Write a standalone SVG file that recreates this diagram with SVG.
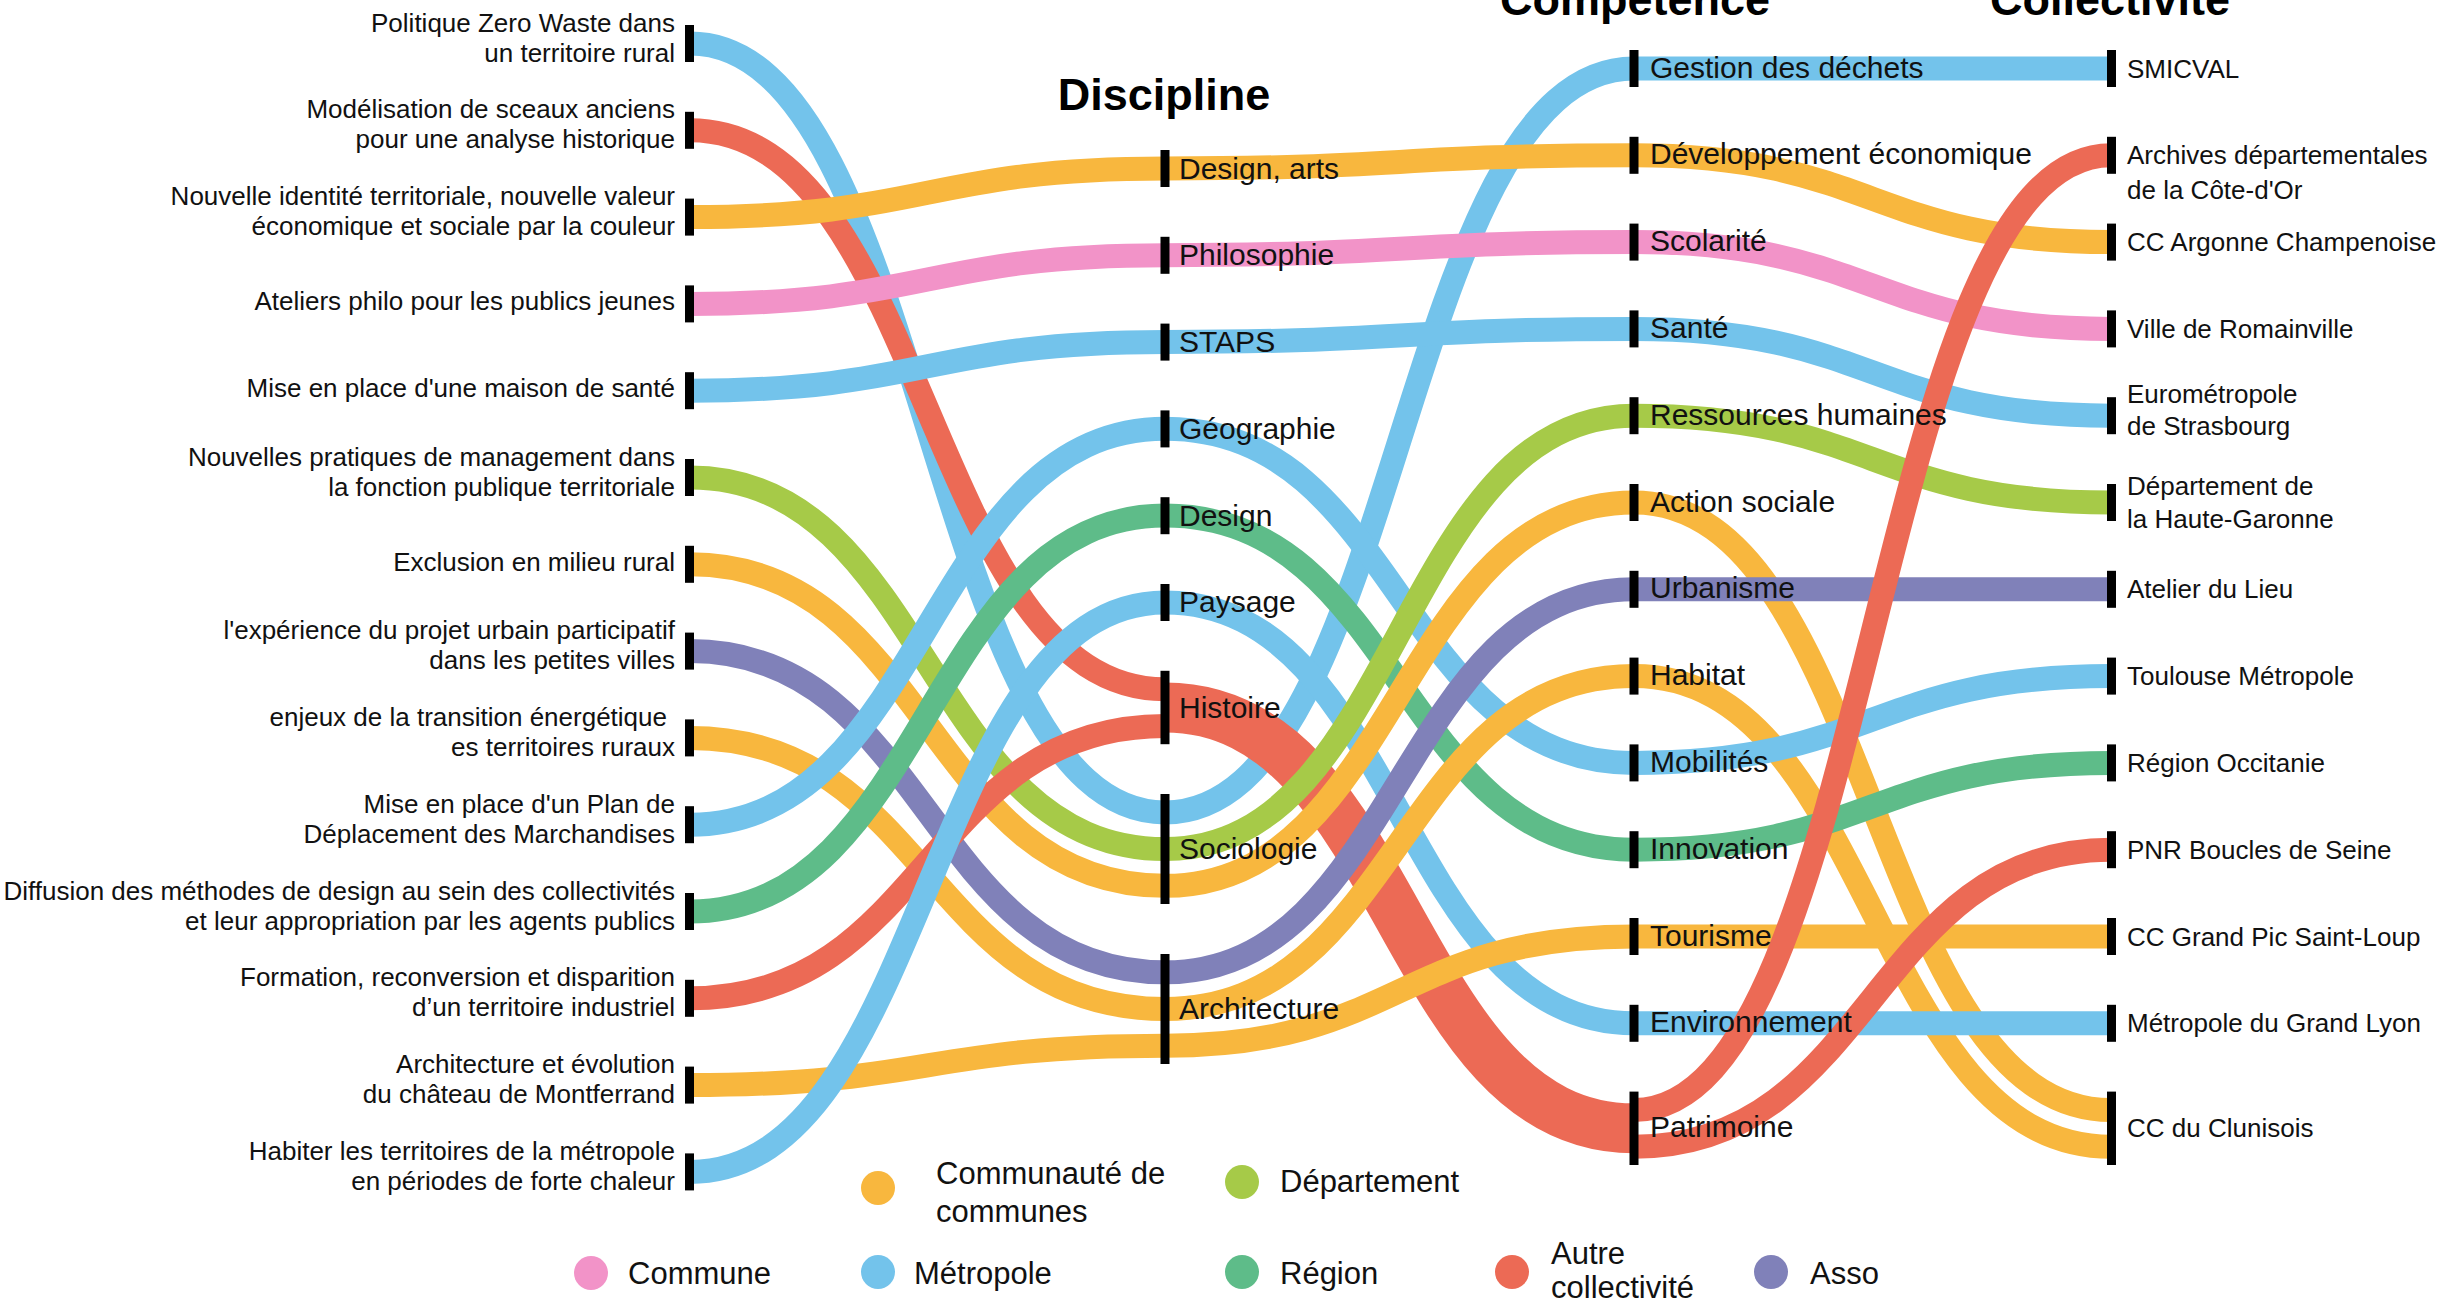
<svg xmlns="http://www.w3.org/2000/svg" width="2445" height="1305" viewBox="0 0 2445 1305">
<style>
.lk{fill:none;stroke-width:24}
.b{stroke:#73C3EB}.o{stroke:#F8B73E}.p{stroke:#F293C8}.l{stroke:#A6CA48}.g{stroke:#5EBC89}.r{stroke:#EC6A55}.v{stroke:#8081B9}
.fb{fill:#73C3EB}.fo{fill:#F8B73E}.fp{fill:#F293C8}.fl{fill:#A6CA48}.fg{fill:#5EBC89}.fr{fill:#EC6A55}.fv{fill:#8081B9}
.bar{fill:#000}
.t{font-family:"Liberation Sans",Arial,sans-serif;fill:#111}
.lt{font-size:26px;text-anchor:end}
.dt{font-size:30px}
.ct{font-size:30px}
.kt{font-size:26px}
.gt{font-size:31px}
.h{font-family:"Liberation Sans",Arial,sans-serif;font-weight:bold;font-size:45px;text-anchor:middle;fill:#000}
</style>
<rect width="2445" height="1305" fill="#fff"/>
<g id="titles">
<text class="h" x="1164" y="110">Discipline</text>
<text class="h" x="1635" y="15">Compétence</text>
<text class="h" x="2110" y="15">Collectivité</text>
</g>
<g id="connectors">
<path class="lk b" d="M690 43.5C927.5 43.5 927.5 812.4 1165 812.4"/>
<path class="lk r" d="M690 130.3C927.5 130.3 927.5 689.2 1165 689.2"/>
<path class="lk o" d="M690 217.1C927.5 217.1 927.5 168.5 1165 168.5"/>
<path class="lk p" d="M690 303.9C927.5 303.9 927.5 255.2 1165 255.2"/>
<path class="lk b" d="M690 390.7C927.5 390.7 927.5 342 1165 342"/>
<path class="lk l" d="M690 477.5C927.5 477.5 927.5 849.1 1165 849.1"/>
<path class="lk o" d="M690 564.3C927.5 564.3 927.5 885.8 1165 885.8"/>
<path class="lk v" d="M690 651.1C927.5 651.1 927.5 972.3 1165 972.3"/>
<path class="lk o" d="M690 737.9C927.5 737.9 927.5 1009 1165 1009"/>
<path class="lk b" d="M690 824.7C927.5 824.7 927.5 428.8 1165 428.8"/>
<path class="lk g" d="M690 911.5C927.5 911.5 927.5 515.6 1165 515.6"/>
<path class="lk r" d="M690 998.3C927.5 998.3 927.5 725.9 1165 725.9"/>
<path class="lk o" d="M690 1085.1C927.5 1085.1 927.5 1045.7 1165 1045.7"/>
<path class="lk b" d="M690 1171.9C927.5 1171.9 927.5 602.4 1165 602.4"/>

<path class="lk b" d="M1165 812.4C1399.5 812.4 1399.5 68.5 1634 68.5"/>
<path class="lk o" d="M1165 168.5C1399.5 168.5 1399.5 155.3 1634 155.3"/>
<path class="lk p" d="M1165 255.2C1399.5 255.2 1399.5 242.1 1634 242.1"/>
<path class="lk b" d="M1165 342C1399.5 342 1399.5 328.9 1634 328.9"/>
<path class="lk b" d="M1165 428.8C1399.5 428.8 1399.5 762.9 1634 762.9"/>
<path class="lk g" d="M1165 515.6C1399.5 515.6 1399.5 849.7 1634 849.7"/>
<path class="lk b" d="M1165 602.4C1399.5 602.4 1399.5 1023.3 1634 1023.3"/>
<path class="lk r" style="stroke-width:50" d="M1165 707.5C1399.5 707.5 1399.5 1128.3 1634 1128.3"/>
<path class="lk l" d="M1165 849.1C1399.5 849.1 1399.5 415.7 1634 415.7"/>
<path class="lk o" d="M1165 885.8C1399.5 885.8 1399.5 502.5 1634 502.5"/>
<path class="lk v" d="M1165 972.3C1399.5 972.3 1399.5 589.3 1634 589.3"/>
<path class="lk o" d="M1165 1009C1399.5 1009 1399.5 676.1 1634 676.1"/>
<path class="lk o" d="M1165 1045.7C1399.5 1045.7 1399.5 936.5 1634 936.5"/>

<path class="lk b" d="M1634 68.5L2111 68.5"/>
<path class="lk o" d="M1634 155.3C1872.5 155.3 1872.5 242.1 2111 242.1"/>
<path class="lk p" d="M1634 242.1C1872.5 242.1 1872.5 328.9 2111 328.9"/>
<path class="lk b" d="M1634 328.9C1872.5 328.9 1872.5 415.7 2111 415.7"/>
<path class="lk l" d="M1634 415.7C1872.5 415.7 1872.5 502.5 2111 502.5"/>
<path class="lk o" d="M1634 502.5C1872.5 502.5 1872.5 1110 2111 1110"/>
<path class="lk v" d="M1634 589.3L2111 589.3"/>
<path class="lk o" d="M1634 676.1C1872.5 676.1 1872.5 1146.7 2111 1146.7"/>
<path class="lk b" d="M1634 762.9C1872.5 762.9 1872.5 676.1 2111 676.1"/>
<path class="lk g" d="M1634 849.7C1872.5 849.7 1872.5 762.9 2111 762.9"/>
<path class="lk o" d="M1634 936.5L2111 936.5"/>
<path class="lk b" d="M1634 1023.3L2111 1023.3"/>
<path class="lk r" d="M1634 1110C1872.5 1110 1872.5 155.3 2111 155.3"/>
<path class="lk r" d="M1634 1146.7C1872.5 1146.7 1872.5 849.7 2111 849.7"/>
</g>

<g id="projets">
<g id="p1"><rect class="bar" x="685" y="25" width="9" height="37"/><text class="t lt" x="675"><tspan x="675" y="31.5">Politique Zero Waste dans</tspan><tspan x="675" y="61.5">un territoire rural</tspan></text></g>
<g id="p2"><rect class="bar" x="685" y="111.8" width="9" height="37"/><text class="t lt" x="675"><tspan x="675" y="118.3">Modélisation de sceaux anciens</tspan><tspan x="675" y="148.3">pour une analyse historique</tspan></text></g>
<g id="p3"><rect class="bar" x="685" y="198.6" width="9" height="37"/><text class="t lt" x="675"><tspan x="675" y="205.1">Nouvelle identité territoriale, nouvelle valeur</tspan><tspan x="675" y="235.1">économique et sociale par la couleur</tspan></text></g>
<g id="p4"><rect class="bar" x="685" y="285.4" width="9" height="37"/><text class="t lt" x="675" y="310">Ateliers philo pour les publics jeunes</text></g>
<g id="p5"><rect class="bar" x="685" y="372.2" width="9" height="37"/><text class="t lt" x="675" y="397">Mise en place d'une maison de santé</text></g>
<g id="p6"><rect class="bar" x="685" y="459" width="9" height="37"/><text class="t lt" x="675"><tspan x="675" y="465.5">Nouvelles pratiques de management dans</tspan><tspan x="675" y="495.5">la fonction publique territoriale</tspan></text></g>
<g id="p7"><rect class="bar" x="685" y="545.8" width="9" height="37"/><text class="t lt" x="675" y="570.5">Exclusion en milieu rural</text></g>
<g id="p8"><rect class="bar" x="685" y="632.6" width="9" height="37"/><text class="t lt" x="675"><tspan x="675" y="639.1">l'expérience du projet urbain participatif</tspan><tspan x="675" y="669.1">dans les petites villes</tspan></text></g>
<g id="p9"><rect class="bar" x="685" y="719.4" width="9" height="37"/><text class="t lt" x="675"><tspan x="667" y="725.9">enjeux de la transition énergétique</tspan><tspan x="675" y="755.9">es territoires ruraux</tspan></text></g>
<g id="p10"><rect class="bar" x="685" y="806.2" width="9" height="37"/><text class="t lt" x="675"><tspan x="675" y="812.7">Mise en place d'un Plan de</tspan><tspan x="675" y="842.7">Déplacement des Marchandises</tspan></text></g>
<g id="p11"><rect class="bar" x="685" y="893" width="9" height="37"/><text class="t lt" x="675"><tspan x="675" y="899.5">Diffusion des méthodes de design au sein des collectivités</tspan><tspan x="675" y="929.5">et leur appropriation par les agents publics</tspan></text></g>
<g id="p12"><rect class="bar" x="685" y="979.8" width="9" height="37"/><text class="t lt" x="675"><tspan x="675" y="986.3">Formation, reconversion et disparition</tspan><tspan x="675" y="1016.3">d’un territoire industriel</tspan></text></g>
<g id="p13"><rect class="bar" x="685" y="1066.6" width="9" height="37"/><text class="t lt" x="675"><tspan x="675" y="1073.1">Architecture et évolution</tspan><tspan x="675" y="1103.1">du château de Montferrand</tspan></text></g>
<g id="p14"><rect class="bar" x="685" y="1153.4" width="9" height="37"/><text class="t lt" x="675"><tspan x="675" y="1159.9">Habiter les territoires de la métropole</tspan><tspan x="675" y="1189.9">en périodes de forte chaleur</tspan></text></g>
</g>

<g id="disciplines">
<g id="d-design-arts"><rect class="bar" x="1160.5" y="150" width="9" height="37"/><text class="t dt" x="1179" y="178.5">Design, arts</text></g>
<g id="d-philosophie"><rect class="bar" x="1160.5" y="236.8" width="9" height="37"/><text class="t dt" x="1179" y="265.2">Philosophie</text></g>
<g id="d-staps"><rect class="bar" x="1160.5" y="323.6" width="9" height="37"/><text class="t dt" x="1179" y="352">STAPS</text></g>
<g id="d-geographie"><rect class="bar" x="1160.5" y="410.4" width="9" height="37"/><text class="t dt" x="1179" y="438.8">Géographie</text></g>
<g id="d-design"><rect class="bar" x="1160.5" y="497.2" width="9" height="37"/><text class="t dt" x="1179" y="525.6">Design</text></g>
<g id="d-paysage"><rect class="bar" x="1160.5" y="584" width="9" height="37"/><text class="t dt" x="1179" y="612.4">Paysage</text></g>
<g id="d-histoire"><rect class="bar" x="1160.5" y="670.8" width="9" height="73.4"/><text class="t dt" x="1179" y="717.5">Histoire</text></g>
<g id="d-sociologie"><rect class="bar" x="1160.5" y="794" width="9" height="110"/><text class="t dt" x="1179" y="859">Sociologie</text></g>
<g id="d-architecture"><rect class="bar" x="1160.5" y="954" width="9" height="110"/><text class="t dt" x="1179" y="1019">Architecture</text></g>
</g>

<g id="competences">
<g id="c-dechets"><rect class="bar" x="1629.5" y="50" width="9" height="37"/><text class="t ct" x="1650" y="77.5">Gestion des déchets</text></g>
<g id="c-dev"><rect class="bar" x="1629.5" y="136.8" width="9" height="37"/><text class="t ct" x="1650" y="164.3">Développement économique</text></g>
<g id="c-scolarite"><rect class="bar" x="1629.5" y="223.6" width="9" height="37"/><text class="t ct" x="1650" y="251.1">Scolarité</text></g>
<g id="c-sante"><rect class="bar" x="1629.5" y="310.4" width="9" height="37"/><text class="t ct" x="1650" y="337.9">Santé</text></g>
<g id="c-rh"><rect class="bar" x="1629.5" y="397.2" width="9" height="37"/><text class="t ct" x="1650" y="424.7">Ressources humaines</text></g>
<g id="c-action"><rect class="bar" x="1629.5" y="484" width="9" height="37"/><text class="t ct" x="1650" y="511.5">Action sociale</text></g>
<g id="c-urbanisme"><rect class="bar" x="1629.5" y="570.8" width="9" height="37"/><text class="t ct" x="1650" y="598.3">Urbanisme</text></g>
<g id="c-habitat"><rect class="bar" x="1629.5" y="657.6" width="9" height="37"/><text class="t ct" x="1650" y="685.1">Habitat</text></g>
<g id="c-mobilites"><rect class="bar" x="1629.5" y="744.4" width="9" height="37"/><text class="t ct" x="1650" y="771.9">Mobilités</text></g>
<g id="c-innovation"><rect class="bar" x="1629.5" y="831.2" width="9" height="37"/><text class="t ct" x="1650" y="858.7">Innovation</text></g>
<g id="c-tourisme"><rect class="bar" x="1629.5" y="918" width="9" height="37"/><text class="t ct" x="1650" y="945.5">Tourisme</text></g>
<g id="c-environnement"><rect class="bar" x="1629.5" y="1004.8" width="9" height="37"/><text class="t ct" x="1650" y="1032.3">Environnement</text></g>
<g id="c-patrimoine"><rect class="bar" x="1629.5" y="1091.6" width="9" height="73.4"/><text class="t ct" x="1650" y="1137.3">Patrimoine</text></g>
</g>

<g id="collectivites">
<g id="k-smicval"><rect class="bar" x="2107" y="50" width="9" height="37"/><text class="t kt" x="2127" y="77.5">SMICVAL</text></g>
<g id="k-archives"><rect class="bar" x="2107" y="136.8" width="9" height="37"/><text class="t kt"><tspan x="2127" y="164.3">Archives départementales</tspan><tspan x="2127" y="199">de la Côte-d'Or</tspan></text></g>
<g id="k-argonne"><rect class="bar" x="2107" y="223.6" width="9" height="37"/><text class="t kt" x="2127" y="251.1">CC Argonne Champenoise</text></g>
<g id="k-romainville"><rect class="bar" x="2107" y="310.4" width="9" height="37"/><text class="t kt" x="2127" y="337.9">Ville de Romainville</text></g>
<g id="k-strasbourg"><rect class="bar" x="2107" y="397.2" width="9" height="37"/><text class="t kt"><tspan x="2127" y="403">Eurométropole</tspan><tspan x="2127" y="435">de Strasbourg</tspan></text></g>
<g id="k-hautegaronne"><rect class="bar" x="2107" y="484" width="9" height="37"/><text class="t kt"><tspan x="2127" y="495">Département de</tspan><tspan x="2127" y="528">la Haute-Garonne</tspan></text></g>
<g id="k-atelier"><rect class="bar" x="2107" y="570.8" width="9" height="37"/><text class="t kt" x="2127" y="598.3">Atelier du Lieu</text></g>
<g id="k-toulouse"><rect class="bar" x="2107" y="657.6" width="9" height="37"/><text class="t kt" x="2127" y="685.1">Toulouse Métropole</text></g>
<g id="k-occitanie"><rect class="bar" x="2107" y="744.4" width="9" height="37"/><text class="t kt" x="2127" y="771.9">Région Occitanie</text></g>
<g id="k-pnr"><rect class="bar" x="2107" y="831.2" width="9" height="37"/><text class="t kt" x="2127" y="858.7">PNR Boucles de Seine</text></g>
<g id="k-grandpic"><rect class="bar" x="2107" y="918" width="9" height="37"/><text class="t kt" x="2127" y="945.5">CC Grand Pic Saint-Loup</text></g>
<g id="k-lyon"><rect class="bar" x="2107" y="1004.8" width="9" height="37"/><text class="t kt" x="2127" y="1032.3">Métropole du Grand Lyon</text></g>
<g id="k-clunisois"><rect class="bar" x="2107" y="1091.6" width="9" height="73.4"/><text class="t kt" x="2127" y="1137.3">CC du Clunisois</text></g>
</g>

<g id="legend">
<circle class="fo" cx="878" cy="1188" r="17"/><text class="t gt"><tspan x="936" y="1184">Communauté de</tspan><tspan x="936" y="1222">communes</tspan></text>
<circle class="fl" cx="1242" cy="1182" r="17"/><text class="t gt" x="1280" y="1192">Département</text>
<circle class="fp" cx="591" cy="1273" r="17"/><text class="t gt" x="628" y="1284">Commune</text>
<circle class="fb" cx="878" cy="1272" r="17"/><text class="t gt" x="914" y="1284">Métropole</text>
<circle class="fg" cx="1242" cy="1272" r="17"/><text class="t gt" x="1280" y="1284">Région</text>
<circle class="fr" cx="1512" cy="1272" r="17"/><text class="t gt"><tspan x="1551" y="1264">Autre</tspan><tspan x="1551" y="1298">collectivité</tspan></text>
<circle class="fv" cx="1771" cy="1272" r="17"/><text class="t gt" x="1810" y="1284">Asso</text>
</g>
</svg>
